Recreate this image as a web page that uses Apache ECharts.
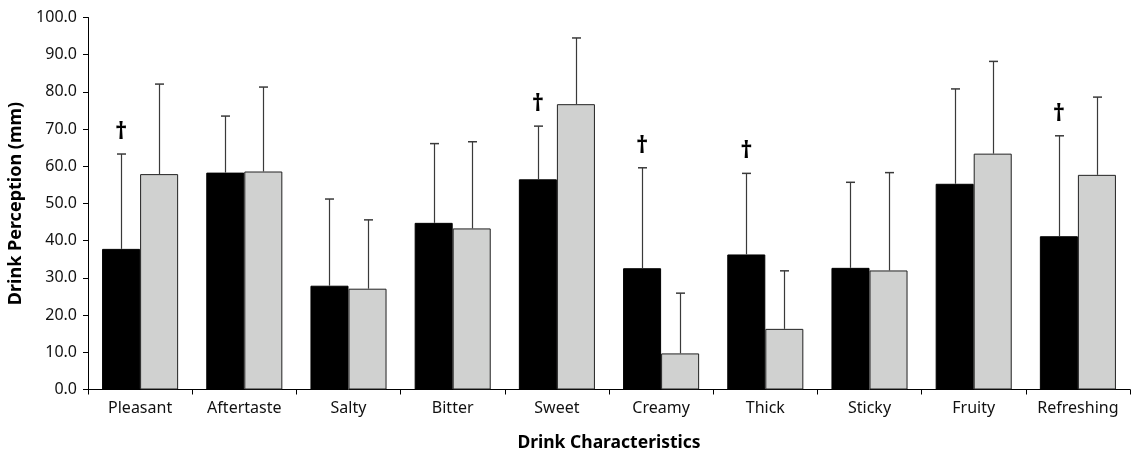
<!DOCTYPE html>
<html><head><meta charset="utf-8">
<script src="https://cdn.jsdelivr.net/npm/echarts@6/dist/echarts.min.js"></script>
<style>html,body{margin:0;padding:0;background:#fff}#c{width:1137px;height:452px}</style>
</head><body><div id="c"></div>
<script>
const categories = ['Pleasant','Aftertaste','Salty','Bitter','Sweet','Creamy','Thick','Sticky','Fruity','Refreshing'];
const blackMean = [37.8, 58.3, 27.9, 44.8, 56.5, 32.6, 36.3, 32.7, 55.3, 41.2];
const blackErrTop = [63.3, 73.5, 51.2, 66.1, 70.8, 59.6, 58.1, 55.7, 80.8, 68.2];
const greyMean = [57.9, 58.6, 27.1, 43.3, 76.7, 9.7, 16.3, 32.0, 63.4, 57.7];
const greyErrTop = [82.1, 81.3, 45.6, 66.6, 94.5, 25.9, 31.9, 58.3, 88.2, 78.6];
const dagger = [true, false, false, false, true, true, true, false, false, true];

const FONT = 'Noto Sans';
const GAP = 0.27;
function errSeries(mean, top, side){
  return {
    type:'custom', z:5,
    encode:{x:0,y:[1,2]},
    data: categories.map((c,i)=>[i, mean[i], top[i]]),
    renderItem:function(params, api){
      const band = api.size([1,0])[0];
      const bw = band*(1-GAP)/2;
      const off = side*bw/2;
      const p0 = api.coord([api.value(0), api.value(1)]);
      const p1 = api.coord([api.value(0), api.value(2)]);
      const x = Math.round(p0[0]+off)+0.5;
      return {type:'group', children:[
        {type:'line', shape:{x1:x,y1:p0[1],x2:x,y2:p1[1]}, style:{stroke:'#3a3a3a',lineWidth:1.2}},
        {type:'line', shape:{x1:x-4.5,y1:p1[1],x2:x+4.5,y2:p1[1]}, style:{stroke:'#3a3a3a',lineWidth:1.5}}
      ]};
    }
  };
}
const chart = echarts.init(document.getElementById('c'));
chart.setOption({
  animation:false,
  grid:{left:88,right:7,top:17.5,bottom:62.5,containLabel:false,outerBoundsMode:'none'},
  xAxis:{type:'category',data:categories,
    name:'Drink Characteristics',nameLocation:'middle',nameGap:45,
    nameTextStyle:{fontFamily:FONT,fontWeight:'bold',fontSize:17.5,color:'#000'},
    axisLine:{lineStyle:{color:'#000',width:1}},
    axisTick:{show:true,interval:0,length:5,lineStyle:{color:'#000'}},
    axisLabel:{interval:0,fontFamily:FONT,fontSize:16,color:'#111',margin:11}},
  yAxis:{type:'value',min:0,max:100,interval:10,
    name:'Drink Perception (mm)',nameLocation:'middle',nameGap:54,
    nameTextStyle:{fontFamily:FONT,fontWeight:'bold',fontSize:18,color:'#000'},
    splitLine:{show:false},
    axisLine:{show:true,lineStyle:{color:'#000',width:1}},
    axisTick:{show:true,length:5,lineStyle:{color:'#000'}},
    axisLabel:{fontFamily:FONT,fontSize:16,color:'#111',margin:11,formatter:v=>v.toFixed(1)}},
  series:[
    {type:'bar',data:blackMean,barGap:'0%',barCategoryGap:(GAP*100)+'%',
      itemStyle:{color:'#000',borderColor:'#000',borderWidth:1}},
    {type:'bar',data:greyMean,barGap:'0%',barCategoryGap:(GAP*100)+'%',
      itemStyle:{color:'#d0d1d0',borderColor:'#222',borderWidth:1}},
    errSeries(blackMean, blackErrTop, -1),
    errSeries(greyMean, greyErrTop, 1),
    {type:'custom', z:6,
      encode:{x:0,y:1},
      data: categories.map((c,i)=>dagger[i]?[i, blackErrTop[i]]:null).filter(d=>d),
      renderItem:function(params, api){
        const band = api.size([1,0])[0];
        const bw = band*(1-GAP)/2;
        const p = api.coord([api.value(0), api.value(1)]);
        return {type:'text', style:{x:p[0]-bw/2, y:p[1]-10, text:'†', fontFamily:FONT, fontWeight:'bold', fontSize:24, fill:'#000', align:'center', verticalAlign:'bottom'}};
      }}
  ]
});
</script></body></html>
